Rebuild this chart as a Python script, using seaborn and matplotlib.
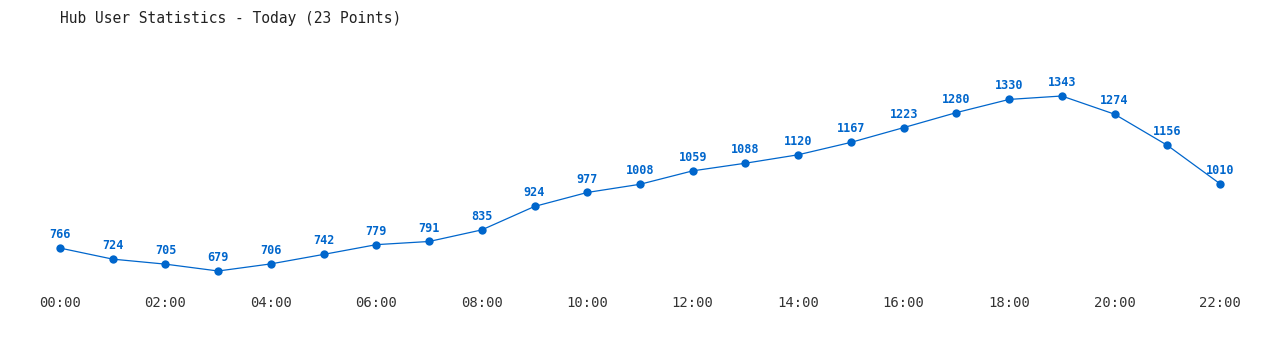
import pandas as pd
import seaborn as sns
import matplotlib.pyplot as plt

sns.set_theme(style="white")
plt.rcParams['font.family'] = ['DejaVu Sans Mono']

hours = list(range(23))
users = [766, 724, 705, 679, 706, 742, 779, 791, 835, 924, 977, 1008,
         1059, 1088, 1120, 1167, 1223, 1280, 1330, 1343, 1274, 1156, 1010]
tick_pos = list(range(0, 23, 2))
tick_labels = [f"{h:02d}:00" for h in tick_pos]

df = pd.DataFrame({"hour": hours, "users": users})
color = "#0066cc"

fig = plt.figure(figsize=(12.8, 3.5), dpi=100)
ax = fig.add_axes([60 / 1280, 79 / 350, 1160 / 1280, 175 / 350])

sns.lineplot(data=df, x="hour", y="users", color=color, linewidth=0.9,
             marker="o", markersize=6, markeredgewidth=0, ax=ax, clip_on=False)

# value labels above each point
for h, v in zip(hours, users):
    ax.annotate(str(v), (h, v), xytext=(0, 5), textcoords="offset points",
                ha="center", va="bottom", color=color, fontsize=8.5,
                fontweight="bold")

ax.set_xlim(0, 22)
ax.set_ylim(679, 1343)
ax.set_xticks(tick_pos)
ax.set_xticklabels(tick_labels, fontsize=10, color="#333333")
ax.set_yticks([])
ax.tick_params(axis="x", length=0, pad=18)
ax.set_xlabel("")
ax.set_ylabel("")
sns.despine(ax=ax, left=True, bottom=True)

fig.text(60 / 1280, 1 - 18 / 350, "Hub User Statistics - Today (23 Points)",
         ha="left", va="center", fontsize=10.5, color="#222222")

plt.savefig("out.png", dpi=100)
